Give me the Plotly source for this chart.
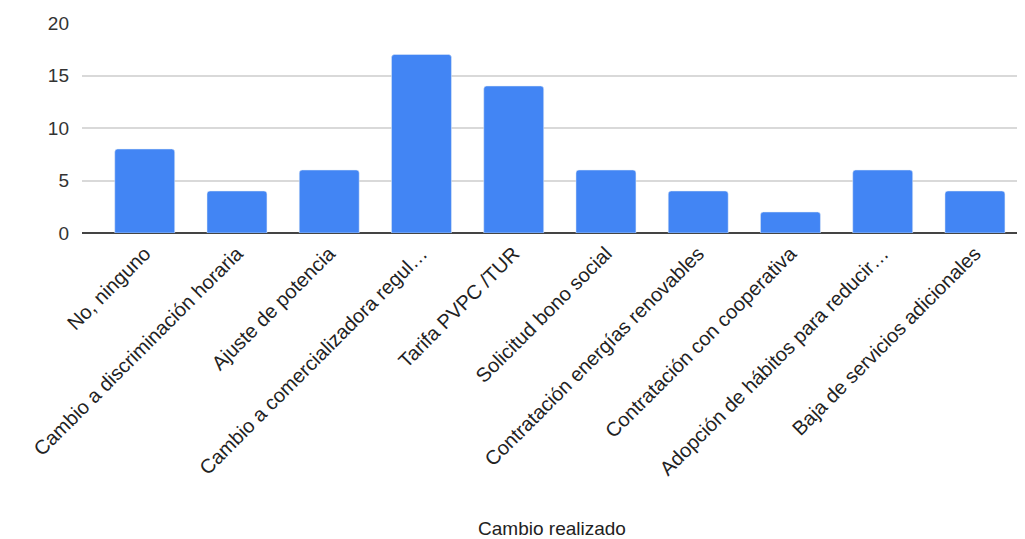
import plotly.graph_objects as go

# Data
categories = [
    "No, ninguno",
    "Cambio a discriminación horaria",
    "Ajuste de potencia",
    "Cambio a comercializadora regul…",
    "Tarifa PVPC /TUR",
    "Solicitud bono social",
    "Contratación energías renovables",
    "Contratación con cooperativa",
    "Adopción de hábitos para reducir…",
    "Baja de servicios adicionales",
]
counts = [8, 4, 6, 17, 14, 6, 4, 2, 6, 4]
y_ticks = [0, 5, 10, 15, 20]

fig = go.Figure(go.Bar(
    x=list(range(len(categories))),
    y=counts,
    marker=dict(color="#4285F4", cornerradius=3),
    width=0.65,
))

# page has an 8px body margin, so size the figure to fit the window
fig.update_layout(
    width=1017, height=531,
    margin=dict(l=74, r=3, t=15, b=306),
    plot_bgcolor="white", paper_bgcolor="white",
    font=dict(family="Liberation Sans, Arial", color="#222222"),
    showlegend=False,
)

fig.update_xaxes(
    range=[-0.68, 9.51],
    tickmode="array",
    tickvals=list(range(len(categories))),
    ticktext=categories,
    tickangle=-45,
    tickfont=dict(size=20, color="#222222"),
    ticklabelstandoff=4,
    showgrid=False,
    zeroline=False,
    showline=False,
    title=dict(text="Cambio realizado", font=dict(size=19, color="#222222"), standoff=54),
    automargin=False,
)

fig.update_yaxes(
    range=[0, 20],
    tickvals=y_ticks,
    tickfont=dict(size=19, color="#333333"),
    showgrid=True,
    gridcolor="#d9d9d9",
    gridwidth=1.5,
    zeroline=True,
    zerolinecolor="#444444",
    zerolinewidth=2,
    ticklabelstandoff=12,
    automargin=False,
)

fig.write_html("out.html")
